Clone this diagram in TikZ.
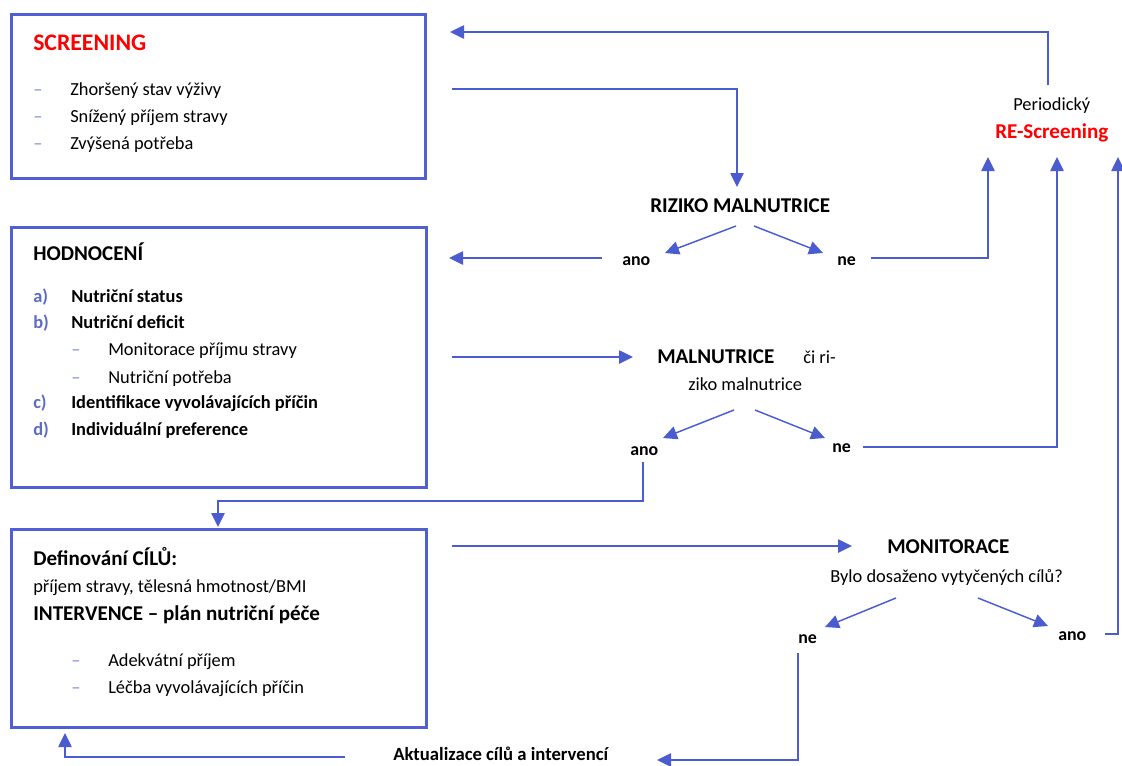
\documentclass[tikz,border=0pt]{standalone}
\usepackage{fontspec}
\setmainfont{Carlito}
\usetikzlibrary{arrows.meta}
\definecolor{lineblue}{RGB}{74,92,208}
\definecolor{boxblue}{RGB}{80,96,210}
\definecolor{dashblue}{RGB}{125,138,215}
\definecolor{letterblue}{RGB}{92,106,200}
\definecolor{scrred}{RGB}{255,0,0}
\newcommand{\fbody}{\fontsize{13.8pt}{16pt}\selectfont}
\newcommand{\fsmall}{\fontsize{13.4pt}{16pt}\selectfont}
\newcommand{\fmid}{\fontsize{15.8pt}{18pt}\selectfont}
\newcommand{\fbig}{\fontsize{17.8pt}{20pt}\selectfont}
\tikzset{
  box/.style={draw=boxblue, line width=2.8pt, inner sep=0pt},
  txt/.style={anchor=base west, inner sep=0pt, font=\fbody, text=black},
  btxt/.style={txt, font=\fbody\bfseries},
  mtxt/.style={txt, font=\fmid\bfseries},
  stxt/.style={txt, font=\fsmall\bfseries},
  dsh/.style={txt, text=dashblue},
  lett/.style={txt, font=\fbody\bfseries, text=letterblue},
  conn/.style={draw=lineblue, line width=1.1pt},
  arr/.style={conn, -{Triangle[length=10.5pt,width=10pt]}},
}
\begin{document}
\begin{tikzpicture}[x=0.75pt,y=-0.75pt]
\useasboundingbox (0,0) rectangle (1122,765);

% boxes
\node[box, minimum width=0.75pt*414, minimum height=0.75pt*164] (b1) at (218.5,96.5) {};
\node[box, minimum width=0.75pt*415, minimum height=0.75pt*260] (b2) at (219,357.5) {};
\node[box, minimum width=0.75pt*415, minimum height=0.75pt*198] (b3) at (219,628.5) {};

% box 1 text
\node[txt, font=\fbig\bfseries, text=scrred] (scr) at (33,50) {SCREENING};
\node[dsh] (d11) at (33,95) {–};
\node[txt] (s1) at (70,95) {Zhoršený stav výživy};
\node[dsh] (d12) at (33,122) {–};
\node[txt] (s2) at (70,122) {Snížený příjem stravy};
\node[dsh] (d13) at (33,149) {–};
\node[txt] (s3) at (70,149) {Zvýšená potřeba};

% box 2 text
\node[mtxt] (hod) at (33,260) {HODNOCENÍ};
\node[lett] (la) at (33,302) {a)};
\node[btxt] (ha) at (71,302) {Nutriční status};
\node[lett] (lb) at (33,328) {b)};
\node[btxt] (hb) at (71,328) {Nutriční deficit};
\node[dsh] (d21) at (71,355) {–};
\node[txt] (hb1) at (108,355) {Monitorace příjmu stravy};
\node[dsh] (d22) at (71,383) {–};
\node[txt] (hb2) at (108,383) {Nutriční potřeba};
\node[lett] (lc) at (33,408) {c)};
\node[btxt] (hc) at (71,408) {Identifikace vyvolávajících příčin};
\node[lett] (ld) at (33,435) {d)};
\node[btxt] (hd) at (71,435) {Individuální preference};

% box 3 text
\node[mtxt] (def) at (33,565) {Definování CÍLŮ:};
\node[txt] (defs) at (33,592) {příjem stravy, tělesná hmotnost/BMI};
\node[mtxt] (int) at (33,620) {INTERVENCE – plán nutriční péče};
\node[dsh] (d31) at (71,666) {–};
\node[txt] (i1) at (108,666) {Adekvátní příjem};
\node[dsh] (d32) at (71,693) {–};
\node[txt] (i2) at (108,693) {Léčba vyvolávajících příčin};

% right side texts
\node[mtxt] (riz) at (650,212) {RIZIKO MALNUTRICE};
\node[stxt] (ano1) at (622,265) {ano};
\node[stxt] (ne1) at (837,265) {ne};
\node[txt] (per) at (1013,110) {Periodický};
\node[txt, font=\fmid\bfseries, text=scrred] (res) at (995,138) {RE-Screening};
\node[mtxt] (mal) at (657,363) {MALNUTRICE};
\node[txt] (ciri) at (803,363) {či ri-};
\node[txt] (ziko) at (688,390) {ziko malnutrice};
\node[stxt] (ano2) at (630,455) {ano};
\node[stxt] (ne2) at (832,452) {ne};
\node[mtxt] (mon) at (887,553) {MONITORACE};
\node[txt] (byl) at (830,582) {Bylo dosaženo vytyčených cílů?};
\node[stxt] (ne3) at (798,643) {ne};
\node[stxt] (ano3) at (1058,640) {ano};
\node[txt, font=\fontsize{14pt}{16pt}\selectfont\bfseries] (akt) at (393,760) {Aktualizace cílů a intervencí};

% connector coordinates
\coordinate (c1s) at (452,89);
\coordinate (c1e) at (737,187);
\coordinate (r1a) at (736,226);
\coordinate (r1at) at (665,253);
\coordinate (r1b) at (754,226);
\coordinate (r1bt) at (823,253);
\coordinate (a1s) at (602,258);
\coordinate (a1e) at (449,258);
\coordinate (n1s) at (871,258);
\coordinate (n1e) at (988,157);
\coordinate (ps) at (1048,85);
\coordinate (pe) at (450,32);
\coordinate (c2s) at (452,357);
\coordinate (c2e) at (633,357);
\coordinate (m1a) at (734,410);
\coordinate (m1at) at (663,438);
\coordinate (m1b) at (755,410);
\coordinate (m1bt) at (825,438);
\coordinate (n2s) at (863,447);
\coordinate (n2e) at (1057,157);
\coordinate (a2s) at (643,462);
\coordinate (a2m) at (218,501);
\coordinate (a2e) at (218,527);
\coordinate (c3s) at (452,546);
\coordinate (c3e) at (852,546);
\coordinate (o1a) at (896,598);
\coordinate (o1at) at (825,627);
\coordinate (o1b) at (978,598);
\coordinate (o1bt) at (1048,626);
\coordinate (a3s) at (1105,634);
\coordinate (a3e) at (1118,157);
\coordinate (n3s) at (798,653);
\coordinate (n3e) at (657,760);
\coordinate (aks) at (345,757);
\coordinate (ake) at (65,733);

% connectors
\draw[arr] (c1s) -| (c1e);
\draw[arr] (r1a) -- (r1at);
\draw[arr] (r1b) -- (r1bt);
\draw[arr] (a1s) -- (a1e);
\draw[arr] (n1s) -| (n1e);
\draw[arr] (ps) |- (pe);
\draw[arr] (c2s) -- (c2e);
\draw[arr] (m1a) -- (m1at);
\draw[arr] (m1b) -- (m1bt);
\draw[arr] (n2s) -| (n2e);
\draw[arr] (a2s) |- (a2m) -- (a2e);
\draw[arr] (c3s) -- (c3e);
\draw[arr] (o1a) -- (o1at);
\draw[arr] (o1b) -- (o1bt);
\draw[arr] (a3s) -| (a3e);
\draw[arr] (n3s) |- (n3e);
\draw[arr] (aks) -| (ake);
\end{tikzpicture}
\end{document}
